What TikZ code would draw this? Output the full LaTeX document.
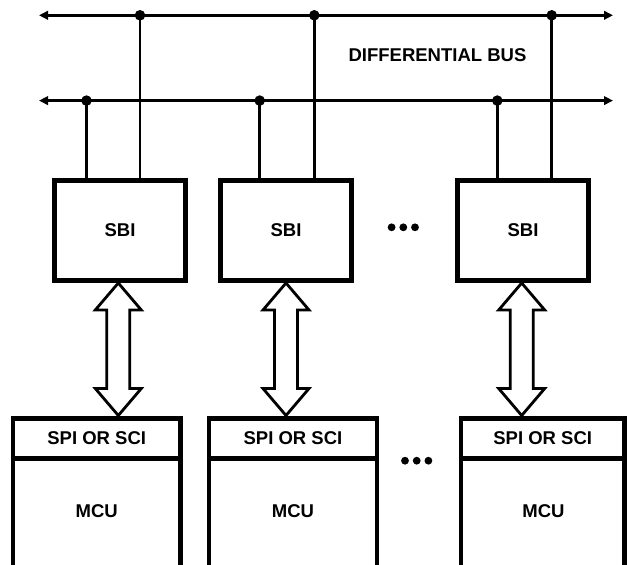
\documentclass[tikz,border=0pt]{standalone}
\usepackage{fontspec}
\setmainfont{Liberation Sans}
\usetikzlibrary{arrows.meta}
\begin{document}
\begin{tikzpicture}[x=1pt,y=-1pt,
  txt/.style={font=\fontsize{18.5}{20}\selectfont\bfseries},
  sbi/.style={draw,line width=5pt,minimum width=131.6pt,minimum height=100.5pt,txt},
  spi/.style={draw,line width=4.6pt,outer sep=0pt,minimum height=40pt,txt},
  side/.style={line width=4.6pt},
  lbl/.style={inner sep=0pt,txt},
  bus/.style={line width=2.9pt,{Triangle[length=9pt,width=8.5pt]}-{Triangle[length=9pt,width=8.5pt]}},
  tap/.style={line width=2.9pt},
  dot/.style={fill=black},
  dbl/.style={draw,fill=white,line width=2.8pt,line join=miter}]
\useasboundingbox (0,0) rectangle (627,565);
% buses
\coordinate (bl1) at (39,15.3);
\coordinate (br1) at (613,15.3);
\coordinate (bl2) at (39,100.6);
\coordinate (br2) at (613,100.6);
\draw[bus] (bl1) -- (br1);
\draw[bus] (bl2) -- (br2);
\node[lbl] (dbus) at (437.5,55) {DIFFERENTIAL BUS};
% SBI boxes
\node[sbi] (s1) at (120,230.25) {SBI};
\node[sbi] (s2) at (286,230.25) {SBI};
\node[sbi] (s3) at (523,230.25) {SBI};
% junctions
\coordinate (t1) at (140,15.3);
\coordinate (t2) at (314.3,15.3);
\coordinate (t3) at (551.7,15.3);
\coordinate (u1) at (86.5,100.6);
\coordinate (u2) at (259.7,100.6);
\coordinate (u3) at (497.3,100.6);
\foreach \j/\s in {t1/s1,t2/s2,t3/s3,u1/s1,u2/s2,u3/s3}{
  \draw[tap] (\j) -- (\j |- \s.north);
  \fill[dot] (\j) circle (5.3);
}
% ellipses
\node[lbl] (e1) at (403.3,227.3) {};
\node[lbl] (e2) at (416.7,460.7) {};
\foreach \dx in {-11.7,0,11.7}{
  \fill[dot] ([xshift=\dx]e1.center) circle (3.9);
  \fill[dot] ([xshift=\dx]e2.center) circle (3.9);
}
% MCU boxes
\node[spi,minimum width=167.5pt] (p1) at (96.75,438.3) {SPI OR SCI};
\node[spi,minimum width=168pt] (p2) at (293,438.3) {SPI OR SCI};
\node[spi,minimum width=163.5pt] (p3) at (542.75,438.3) {SPI OR SCI};
\foreach \p in {p1,p2,p3}{
  \draw[side] (\p.south west) -- (\p.south west |- 0,566);
  \draw[side] (\p.south east) -- (\p.south east |- 0,566);
}
\node[lbl] (m1) at (96.75,510.7) {MCU};
\node[lbl] (m2) at (293,510.7) {MCU};
\node[lbl] (m3) at (543.5,510.7) {MCU};
% double arrows
\foreach \s/\dx in {s1/-1.7,s2/0,s3/-1.3}{
  \draw[dbl] ([xshift=\dx]\s.south) -- ++(23,27) -- ++(-11.5,0) -- ++(0,78.5)
     -- ++(11.5,0) -- ++(-23,27) -- ++(-23,-27) -- ++(11.5,0) -- ++(0,-78.5)
     -- ++(-11.5,0) -- cycle;
}
\end{tikzpicture}
\end{document}
